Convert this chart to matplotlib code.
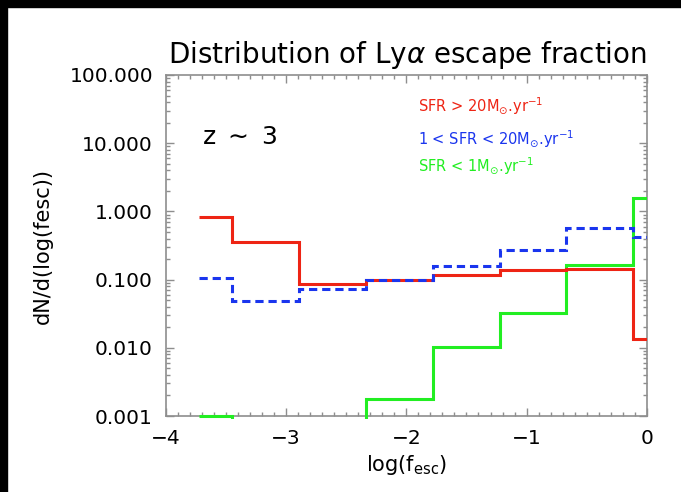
import numpy as np
import matplotlib
matplotlib.use("Agg")
import matplotlib.pyplot as plt
from matplotlib.patches import Rectangle
from matplotlib.ticker import FixedLocator, MultipleLocator, LogLocator, NullFormatter, FixedFormatter

plt.rcParams['font.family'] = ['DejaVu Sans']
plt.rcParams['mathtext.fontset'] = 'dejavusans'

# ---- data ----
bin_edges = [-3.72, -3.445, -2.89, -2.335, -1.78, -1.225, -0.67, -0.115, 0.0]
red_vals = [0.82, 0.36, 0.085, 0.10, 0.115, 0.14, 0.145, 0.0135]      # SFR > 20
blue_vals = [0.106, 0.049, 0.073, 0.099, 0.16, 0.276, 0.58, 0.42]     # 1 < SFR < 20
green_vals = [0.001, 0.0, 0.0, 0.0018, 0.0103, 0.032, 0.166, 1.59]    # SFR < 1
x_ticks = [-4, -3, -2, -1, 0]
x_tick_labels = ["\u22124", "\u22123", "\u22122", "\u22121", "0"]
y_ticks = [0.001, 0.01, 0.1, 1, 10, 100]
y_tick_labels = ["0.001", "0.010", "0.100", "1.000", "10.000", "100.000"]

W, H = 681, 492
fig = plt.figure(figsize=(W / 100, H / 100), dpi=100, facecolor='white')
ax = fig.add_axes([165.5 / W, 1 - 416 / H, (647 - 165.5) / W, (416 - 75) / H])

red_c = '#ee2414'
blue_c = '#1a35ee'
green_c = '#22ee22'

def floor(v):
    v = np.asarray(v, dtype=float)
    return np.where(v > 0, v, 1e-6)

clip_rect = Rectangle((0, -0.008), 1, 1.016, transform=ax.transAxes)
for vals, col in [(green_vals, green_c), (red_vals, red_c), (blue_vals, blue_c)]:
    st = ax.stairs(floor(vals), bin_edges, baseline=None, color=col, lw=2.2, zorder=3)
    st.set_clip_path(clip_rect)
    if col == blue_c:
        st.set_linestyle((0, (2.7, 1.6)))

ax.set_yscale('log')
ax.set_xlim(-4, 0)
ax.set_ylim(1e-3, 1e2)

ax.xaxis.set_major_locator(FixedLocator(x_ticks))
ax.xaxis.set_major_formatter(FixedFormatter(x_tick_labels))
ax.xaxis.set_minor_locator(MultipleLocator(0.1))
ax.yaxis.set_major_locator(FixedLocator(y_ticks))
ax.yaxis.set_major_formatter(FixedFormatter(y_tick_labels))
ax.yaxis.set_minor_locator(LogLocator(base=10, subs=np.arange(2, 10), numticks=20))
ax.yaxis.set_minor_formatter(NullFormatter())

spine_c = '#8e8e8e'
for s in ax.spines.values():
    s.set_color(spine_c)
    s.set_linewidth(1.2)
ax.tick_params(which='both', direction='in', top=True, right=True, color=spine_c,
               labelsize=14.5, labelcolor='black')
ax.tick_params(which='major', length=5.5, width=1.0, pad=9)
ax.tick_params(which='minor', length=3, width=1.0)

ax.set_xlabel(r"log(f$_{\rm esc}$)", fontsize=15, labelpad=4)
ax.set_ylabel("dN/d(log(fesc))", fontsize=15, labelpad=12)

fig.text(0.598, 1 - 63 / H, r"Distribution of Ly$\alpha$ escape fraction",
         ha='center', va='baseline', fontsize=20)

ax.text(0.075, 0.818, r"z $\sim$ 3", transform=ax.transAxes, fontsize=18,
        ha='left', va='center')
ax.text(0.525, 0.909, r"SFR > 20M$_{\odot}$.yr$^{-1}$", transform=ax.transAxes,
        color=red_c, fontsize=10.5, ha='left', va='center')
ax.text(0.525, 0.811, r"1 < SFR < 20M$_{\odot}$.yr$^{-1}$", transform=ax.transAxes,
        color=blue_c, fontsize=10.5, ha='left', va='center')
ax.text(0.525, 0.732, r"SFR < 1M$_{\odot}$.yr$^{-1}$", transform=ax.transAxes,
        color=green_c, fontsize=10.5, ha='left', va='center')

# dark frame strips of the original slide
fig.add_artist(Rectangle((0, 1 - 7 / H), 1, 7 / H, transform=fig.transFigure,
                         color='black', zorder=10))
fig.add_artist(Rectangle((0, 0), 7 / W, 1, transform=fig.transFigure,
                         color='black', zorder=10))

fig.savefig("out.png", dpi=100, facecolor='white')
